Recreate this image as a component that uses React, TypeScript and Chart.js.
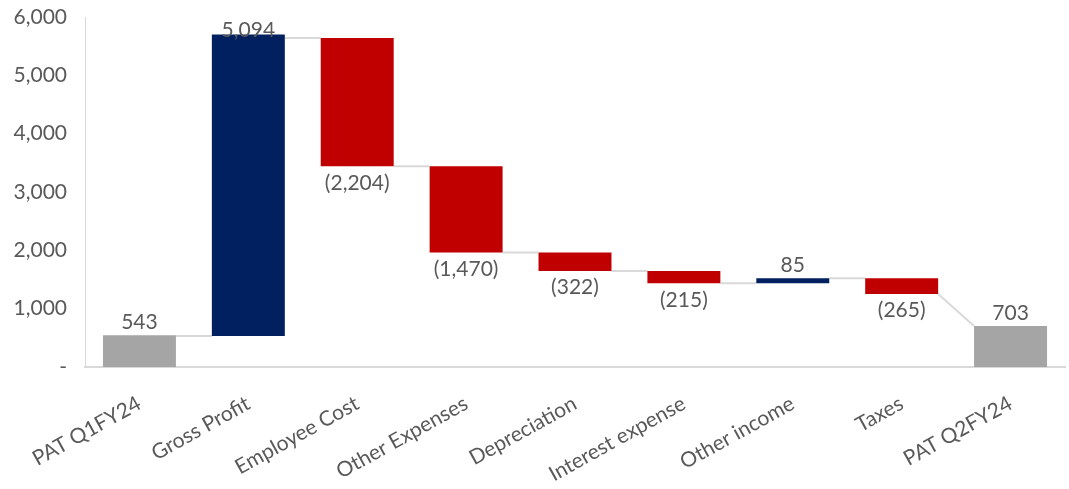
import React, { useEffect, useRef } from "react";
import { Chart, registerables } from "chart.js";

Chart.register(...registerables);

const categories = [
  "PAT Q1FY24",
  "Gross Profit",
  "Employee Cost",
  "Other Expenses",
  "Depreciation",
  "Interest expense",
  "Other income",
  "Taxes",
  "PAT Q2FY24",
];
const labelValues = [543, 5094, -2204, -1470, -322, -215, 85, -265, 703];
const barStart = [0, 530, 5640, 3440, 1965, 1645, 1435, 1520, 0];
const barEnd = [543, 5700, 3440, 1965, 1645, 1435, 1520, 1250, 703];
const barKind = ["total", "up", "down", "down", "down", "down", "up", "down", "total"];
const labelPlacement = ["above", "overlap", "below", "below", "below", "below", "above", "below", "above"];
const yTicks = [0, 1000, 2000, 3000, 4000, 5000, 6000];

const COLORS: Record<string, string> = { total: "#a5a5a5", up: "#002060", down: "#c00000" };
const TEXT = "#595959";
const FONT = "Lato";

const fmt = (v: number) =>
  v < 0 ? `(${Math.abs(v).toLocaleString("en-US")})` : v.toLocaleString("en-US");

const waterfallPlugin = {
  id: "waterfallExtras",
  beforeDatasetsDraw(chart: any) {
    const { ctx, scales } = chart;
    const meta = chart.getDatasetMeta(0);
    const y = scales.y;
    ctx.save();
    ctx.strokeStyle = "#d9d9d9";
    ctx.lineWidth = 2;
    for (let i = 0; i < meta.data.length - 1; i++) {
      const a = meta.data[i];
      const b = meta.data[i + 1];
      const isTotal = barKind[i + 1] === "total";
      const toV = isTotal ? Math.max(barStart[i + 1], barEnd[i + 1]) : barStart[i + 1];
      const fromV = isTotal ? barEnd[i] : toV;
      ctx.beginPath();
      ctx.moveTo(a.x + a.width / 2, y.getPixelForValue(fromV));
      ctx.lineTo(b.x - b.width / 2, y.getPixelForValue(toV));
      ctx.stroke();
    }
    ctx.restore();
  },
  afterDatasetsDraw(chart: any) {
    const { ctx, scales } = chart;
    const meta = chart.getDatasetMeta(0);
    const y = scales.y;
    ctx.save();
    ctx.font = `21px ${FONT}`;
    ctx.fillStyle = TEXT;
    ctx.textAlign = "center";
    meta.data.forEach((el: any, i: number) => {
      const top = y.getPixelForValue(Math.max(barStart[i], barEnd[i]));
      const bottom = y.getPixelForValue(Math.min(barStart[i], barEnd[i]));
      const text = fmt(labelValues[i]);
      const p = labelPlacement[i];
      if (p === "above") {
        ctx.textBaseline = "alphabetic";
        ctx.fillText(text, el.x, top - 6);
      } else if (p === "overlap") {
        ctx.textBaseline = "alphabetic";
        ctx.fillText(text, el.x, top + 2);
      } else {
        ctx.textBaseline = "top";
        ctx.fillText(text, el.x, bottom + 6);
      }
    });
    ctx.restore();
  },
};

export default function App() {
  const ref = useRef<HTMLCanvasElement | null>(null);
  useEffect(() => {
    document.body.style.margin = "0";
    if (!ref.current) return;
    const chart = new Chart(ref.current, {
      type: "bar",
      data: {
        labels: categories,
        datasets: [
          {
            data: barStart.map((s, i) => [s, barEnd[i]]) as any,
            backgroundColor: barKind.map((k) => COLORS[k]),
            borderWidth: 0,
            barPercentage: 0.67,
            categoryPercentage: 1,
          },
        ],
      },
      options: {
        animation: false,
        responsive: true,
        maintainAspectRatio: false,
        layout: { padding: { left: 0, right: 4, top: 0, bottom: 0 } },
        plugins: {
          legend: { display: false },
          tooltip: { enabled: false },
        },
        scales: {
          x: {
            grid: { display: false, drawTicks: false },
            border: { display: true, color: "#d9d9d9", width: 2 },
            afterFit: (axis: any) => {
              axis.height = 122;
            },
            ticks: {
              color: TEXT,
              font: { family: FONT, size: 21 },
              minRotation: 29,
              maxRotation: 29,
              padding: 24,
              autoSkip: false,
            },
          },
          y: {
            min: 0,
            max: 6000,
            afterBuildTicks: (axis: any) => {
              axis.ticks = yTicks.map((v) => ({ value: v }));
            },
            afterFit: (axis: any) => {
              axis.width = 85;
              axis.paddingTop = 17;
              axis.paddingBottom = 12;
            },
            grid: { display: false, drawTicks: false },
            border: { display: true, color: "#d9d9d9", width: 1 },
            ticks: {
              color: TEXT,
              font: { family: FONT, size: 21 },
              padding: 18,
              callback: (v: any) => (Number(v) === 0 ? "-" : Number(v).toLocaleString("en-US")),
            },
          },
        },
      },
      plugins: [waterfallPlugin],
    });
    return () => chart.destroy();
  }, []);
  return (
    <div style={{ width: "1069px", height: "489px", position: "relative" }}>
      <canvas ref={ref} />
    </div>
  );
}
